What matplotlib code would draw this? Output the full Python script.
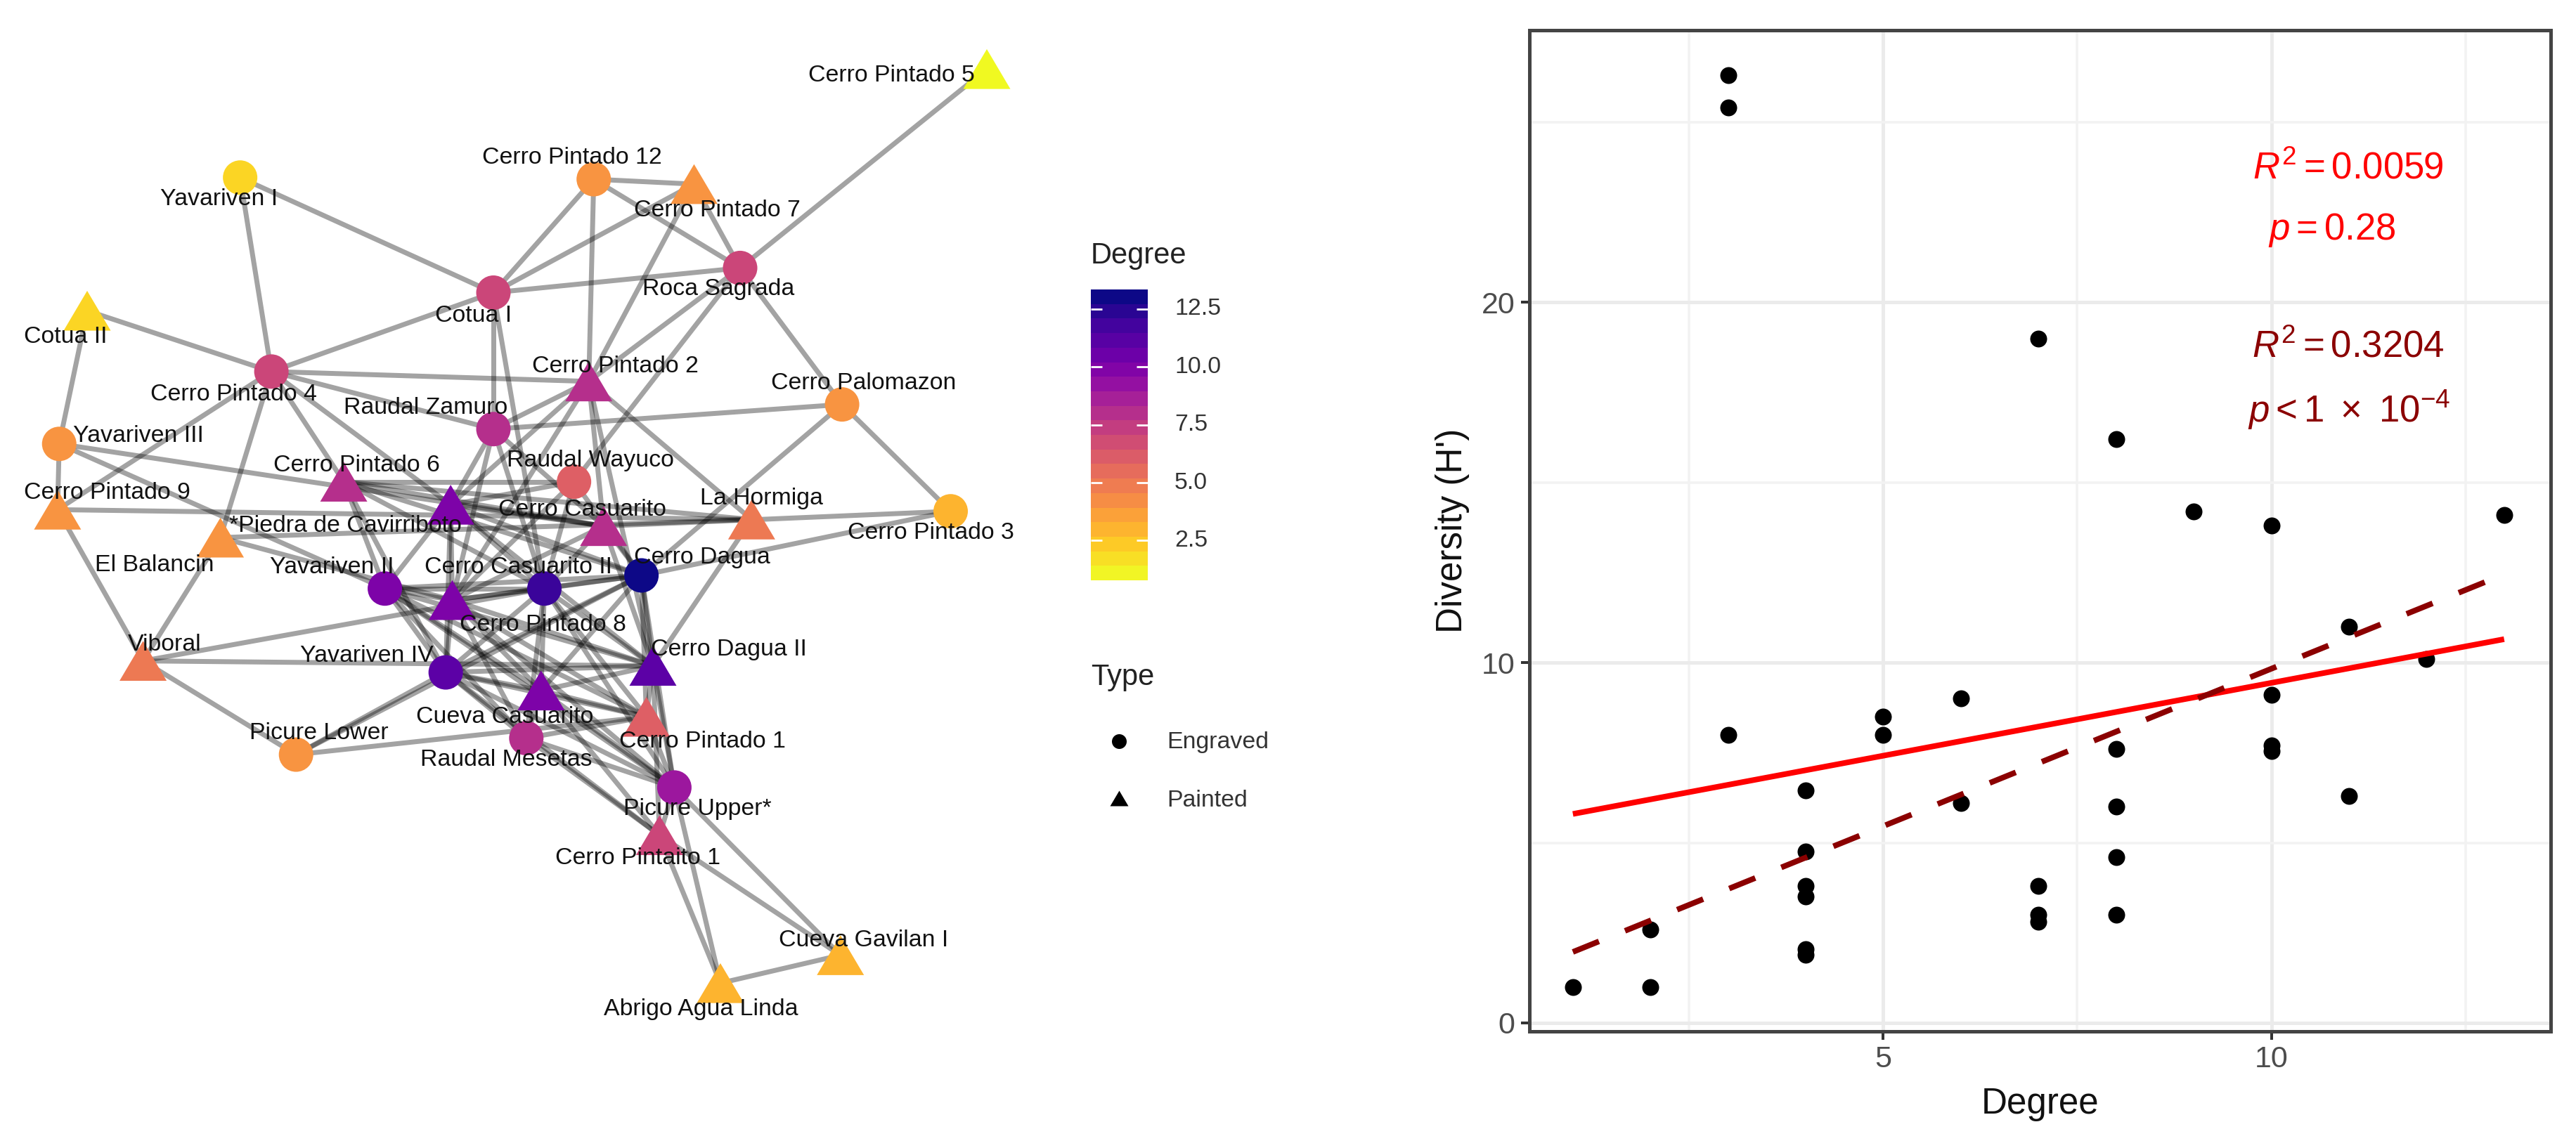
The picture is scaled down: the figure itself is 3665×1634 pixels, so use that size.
import matplotlib
matplotlib.use('Agg')
import matplotlib.pyplot as plt
import numpy as np
from matplotlib.collections import LineCollection
from matplotlib.path import Path

plt.rcParams['font.family'] = ['Liberation Sans', 'DejaVu Sans']
plt.rcParams['mathtext.fontset'] = 'custom'
plt.rcParams['mathtext.rm'] = 'Liberation Sans'
plt.rcParams['mathtext.it'] = 'Liberation Sans:italic'
plt.rcParams['mathtext.default'] = 'rm'

# network sites: code, name, layout x, layout y, degree, type (c engraved, t painted)
site_codes = ['CP5', 'YI', 'CP12', 'CP7', 'RS', 'CI', 'CII', 'CP4', 'CP2', 'CPa', 'RZ', 'YIII',
              'RW', 'CP6', 'CP9', 'CP3', 'PC', 'EB', 'LH', 'CC', 'CD', 'YII', 'CCII', 'CP8',
              'V', 'CDII', 'YIV', 'CuC', 'CP1', 'RM', 'PL', 'PU', 'CPi', 'CG', 'AAL']
site_names = ['Cerro Pintado 5', 'Yavariven I', 'Cerro Pintado 12', 'Cerro Pintado 7', 'Roca Sagrada',
              'Cotua I', 'Cotua II', 'Cerro Pintado 4', 'Cerro Pintado 2', 'Cerro Palomazon',
              'Raudal Zamuro', 'Yavariven III', 'Raudal Wayuco', 'Cerro Pintado 6', 'Cerro Pintado 9',
              'Cerro Pintado 3', '*Piedra de Cavirriboto', 'El Balancin', 'La Hormiga', 'Cerro Casuarito',
              'Cerro Dagua', 'Yavariven II', 'Cerro Casuarito II', 'Cerro Pintado 8', 'Viboral',
              'Cerro Dagua II', 'Yavariven IV', 'Cueva Casuarito', 'Cerro Pintado 1', 'Raudal Mesetas',
              'Picure Lower', 'Picure Upper*', 'Cerro Pintaito 1', 'Cueva Gavilan I', 'Abrigo Agua Linda']
site_x = [600, 146, 361, 422, 450, 300, 53, 165, 358, 512, 300, 36,
          349, 209, 35, 578, 274, 134, 457, 367, 390, 234, 331, 275,
          87, 397, 271, 329, 393, 320, 180, 410, 401, 511, 438]
site_y = [42, 108, 109, 112, 163, 178, 189, 226, 232, 246, 261, 270,
          293, 293, 310, 311, 307, 327, 316, 320, 350, 358, 358, 365,
          402, 405, 409, 420, 436, 449, 459, 479, 508, 581, 598]
site_degree = [1, 2, 4, 4, 7, 7, 2, 7, 8, 4, 8, 4,
               6, 8, 4, 3, 10, 4, 5, 8, 13, 10, 12, 10,
               5, 11, 11, 10, 6, 8, 4, 9, 7, 3, 3]
site_type = ['t', 'c', 'c', 't', 'c', 'c', 't', 'c', 't', 'c', 'c', 'c',
             'c', 't', 't', 'c', 't', 't', 't', 't', 'c', 'c', 'c', 't',
             't', 't', 'c', 't', 't', 'c', 'c', 'c', 't', 't', 't']
label_x = [542, 133, 348, 436, 437, 288, 40, 142, 374, 525, 259, 84,
           359, 217, 65, 566, 210, 94, 463, 354, 427, 202, 315, 330,
           100, 443, 223, 307, 427, 308, 194, 424, 388, 525, 426]
label_y = [46, 121, 96, 128, 176, 192, 205, 240, 223, 233, 248, 265,
           280, 283, 300, 324, 320, 344, 303, 310, 339, 345, 345, 380,
           392, 395, 399, 436, 451, 462, 446, 492, 522, 572, 614]

edge_list = """CP5-RS YI-CI YI-CP4 CII-CP4 CII-YIII CP12-CP7 CP12-CI CP12-RS CP12-CP2 CP7-CI CP7-RS CP7-CP2
CI-RS CI-CP4 CI-RZ CI-CCII RS-CP2 RS-RW RS-CPa CPa-CP3 CPa-CD CPa-RZ CP3-CC CP3-CD
LH-CP2 LH-CDII LH-CP9 LH-EB LH-CP6 YIII-CC YIII-YII YIII-CP9 CP9-CP4 CP9-V EB-CP4 EB-V EB-CP8
V-PL V-CCII V-CDII PL-YIV PL-CD PL-CP1 CP4-CP2 CP4-RZ CP4-CP6 CP4-PC
CP2-PC CP2-RZ CP2-CC CP2-CDII CP2-CP8 RZ-PC RZ-CP8 RZ-CC RZ-CCII
RW-CP6 RW-PC RW-CD RW-CP8 RW-CCII CP6-CC CP6-CD CP6-YII CP6-YIV CP6-CCII
PC-CC PC-YII PC-CP8 PC-CCII PC-CDII PC-YIV PC-CD
CC-CD CC-CCII CC-CP8 CC-CDII CD-CCII CD-CP8 CD-YII CD-YIV CD-CuC CD-CDII CD-CP1 CD-PU
CCII-YII CCII-CP8 CCII-YIV CCII-CuC CCII-CDII CCII-CP1 CCII-RM CCII-PU
YII-CP8 YII-YIV YII-CuC YII-RM YII-CDII YII-CP1 YII-PU
CP8-YIV CP8-CuC CP8-CDII CP8-RM CP8-CP1 CP8-PU
YIV-CDII YIV-CuC YIV-CP1 YIV-RM YIV-PU YIV-CPi
CuC-CDII CuC-CP1 CuC-RM CuC-PU CuC-CPi CDII-CP1 CDII-PU CDII-CPi
CP1-RM CP1-PU RM-PU RM-CPi PU-AAL PU-CG PU-CPi CPi-AAL CPi-CG AAL-CG"""

# scatter panel
degree_vals = [1, 2, 2, 3, 3, 3, 4, 4, 4, 4, 4, 4, 5, 5, 6, 6, 7, 7, 7, 7,
               8, 8, 8, 8, 8, 9, 10, 10, 10, 10, 11, 11, 12, 13]
diversity_vals = [1.0, 1.0, 2.6, 26.3, 25.4, 8.0, 6.45, 4.75, 3.8, 3.5, 2.05, 1.9, 8.5, 8.0, 9.0, 6.1,
                  19.0, 3.8, 3.0, 2.8, 16.2, 7.6, 6.0, 4.6, 3.0, 14.2, 13.8, 9.1, 7.7, 7.55,
                  11.0, 6.3, 10.1, 14.1]
fit_x = [1, 13]
fit_all = [5.8, 10.65]
fit_dashed = [1.97, 12.45]
xticks_major = [5, 10]
xticks_minor = [2.5, 7.5, 12.5]
yticks_major = [0, 10, 20]
yticks_minor = [5, 15, 25]
cbar_ticks = [2.5, 5.0, 7.5, 10.0, 12.5]

W, H = 3666, 1634
DPI = 200
SCALE = 2.34  # layout units to pixels
px = 72 / DPI  # one pixel in points

fig = plt.figure(figsize=(W / DPI, H / DPI), dpi=DPI, facecolor='white')

# network, in layout units over the whole figure
ax = fig.add_axes([0, 0, 1, 1])
ax.set_xlim(0, W / SCALE)
ax.set_ylim(H / SCALE, 0)
ax.axis('off')

pos = {c: (x, y) for c, x, y in zip(site_codes, site_x, site_y)}
segs = []
for pair in edge_list.split():
    a, b = pair.split('-')
    segs.append([pos[a], pos[b]])
ax.add_collection(LineCollection(segs, colors='black', alpha=0.36, linewidths=7 * px, zorder=1))

cmap = plt.get_cmap('plasma_r')
norm = plt.Normalize(1, 13)
tri = Path([(-1, -0.846), (1, -0.846), (0, 0.846), (-1, -0.846)], closed=True)
site_x = np.array(site_x)
site_y = np.array(site_y)
site_degree = np.array(site_degree)
is_tri = np.array([t == 't' for t in site_type])
ax.scatter(site_x[~is_tri], site_y[~is_tri], c=site_degree[~is_tri], cmap=cmap, norm=norm,
           s=(49 * px) ** 2, marker='o', linewidths=0, zorder=2)
ax.scatter(site_x[is_tri], site_y[is_tri], c=site_degree[is_tri], cmap=cmap, norm=norm,
           s=(67 * px) ** 2, marker=tri, linewidths=0, zorder=2)
for name, lx, ly in zip(site_names, label_x, label_y):
    ax.text(lx, ly, name, fontsize=12.2, color='#111111', ha='center', va='center', zorder=3)

# legends
ax.text(1552 / SCALE, 364 / SCALE, 'Degree', fontsize=15, color='#222222', va='center')
ax.text(1552 / SCALE, 964 / SCALE, 'Type', fontsize=15, color='#222222', va='center')
ax.scatter([1592 / SCALE], [1055 / SCALE], s=(21 * px) ** 2, c='black', marker='o', linewidths=0)
ax.scatter([1592 / SCALE], [1136 / SCALE], s=(26 * px) ** 2, c='black', marker=tri, linewidths=0)
ax.text(1660 / SCALE, 1057 / SCALE, 'Engraved', fontsize=12.2, color='#333333', va='center')
ax.text(1660 / SCALE, 1139 / SCALE, 'Painted', fontsize=12.2, color='#333333', va='center')

# colour bar
cax = fig.add_axes([1552 / W, 1 - 826 / H, 81 / W, 414 / H])
low, high = 0.78, 13.35
edges = np.linspace(low, high, 21)
mids = np.clip((edges[:-1] + edges[1:]) / 2, 1, 13)
cax.pcolormesh([0, 1], edges, mids[:, None], cmap=cmap, norm=norm)
cax.set_xlim(0, 1)
cax.set_ylim(low, high)
cax.axis('off')
cax.hlines(cbar_ticks, 0, 0.2, colors='white', lw=1.0)
cax.hlines(cbar_ticks, 0.8, 1, colors='white', lw=1.0)
for t in cbar_ticks:
    cax.annotate(f'{t:.1f}', (1, t), xytext=(38 * px, 0), textcoords='offset points',
                 fontsize=12.2, color='#333333', va='center', annotation_clip=False)

# scatter panel
ax2 = fig.add_axes([2176 / W, 1 - 1468 / H, (3629 - 2176) / W, (1468 - 43) / H])
ax2.set_xlim(0.44, 13.6)
ax2.set_ylim(-0.234, 27.55)
ax2.set_xticks(xticks_major)
ax2.set_xticks(xticks_minor, minor=True)
ax2.set_yticks(yticks_major)
ax2.set_yticks(yticks_minor, minor=True)
ax2.grid(True, which='major', color='#ebebeb', lw=5 * px, zorder=0)
ax2.grid(True, which='minor', color='#f2f2f2', lw=3.5 * px, zorder=0)
ax2.set_axisbelow(True)
ax2.tick_params(which='minor', length=0)
ax2.tick_params(which='major', length=12 * px, width=4 * px, color='#333333', labelcolor='#4d4d4d',
                labelsize=15.5, pad=3)
for s in ax2.spines.values():
    s.set_color('#444444')
    s.set_linewidth(5 * px)
ax2.scatter(degree_vals, diversity_vals, s=(24 * px) ** 2, c='black', linewidths=0, zorder=3)
ax2.plot(fit_x, fit_all, color='#ff0000', lw=8 * px, solid_capstyle='butt', zorder=4)
ax2.plot(fit_x, fit_dashed, color='#8b0000', lw=8 * px, linestyle=(0, (5, 5)),
         dash_capstyle='butt', zorder=4)
ax2.set_xlabel('Degree', fontsize=18.4, color='#111111', va='baseline')
ax2.set_ylabel("Diversity (H')", fontsize=18.4, color='#111111', va='baseline')
ax2.xaxis.set_label_coords(0.5, -(1585 - 1468) / (1468 - 43))
ax2.yaxis.set_label_coords(-(2176 - 2080) / (3629 - 2176), 0.5)

ax2.text(10.99, 23.7, r'$\mathit{R}^{2} = 0.0059$', color='#ff0000', fontsize=19, ha='center', va='center')
ax2.text(10.78, 22.0, r'$\mathit{p} = 0.28$', color='#ff0000', fontsize=19, ha='center', va='center')
ax2.text(10.99, 18.75, r'$\mathit{R}^{2} = 0.3204$', color='#8b0000', fontsize=19, ha='center', va='center')
ax2.text(11.0, 17.0, r'$\mathit{p} < 1\ \times\ 10^{-4}$', color='#8b0000', fontsize=19, ha='center', va='center')

fig.savefig('out.png', dpi=DPI, facecolor='white')
